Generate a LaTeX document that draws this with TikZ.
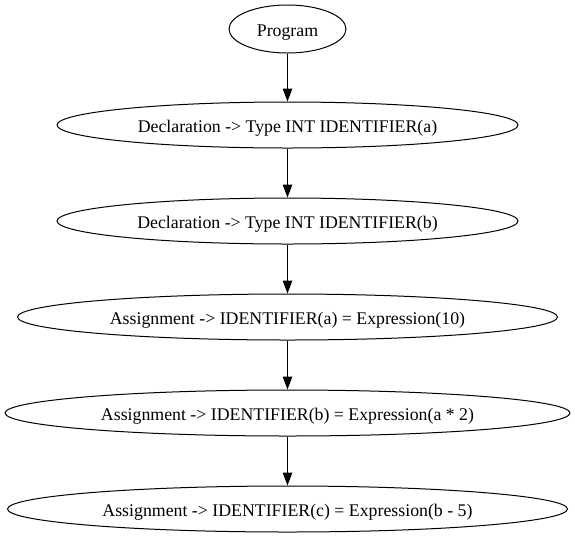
\documentclass[tikz,border=0pt]{standalone}
\usepackage{fontspec}
\setmainfont{Liberation Serif}
\usetikzlibrary{shapes.geometric,arrows.meta}
\begin{document}
\begin{tikzpicture}[x=1pt,y=-1pt,
  gnode/.style={draw, ellipse, inner sep=0pt, line width=1pt, minimum height=46pt,
    text height=16pt, text depth=2pt,
    font=\fontsize{17.8}{20}\selectfont},
  edge/.style={line width=1pt, -{Triangle[length=13pt,width=9.5pt]}}]
\useasboundingbox (0,0) rectangle (575,539);
\node[gnode, minimum width=117pt, minimum height=48pt] (p) at (287.5,29) {Program};
\node[gnode, minimum width=461pt] (d1) at (287.5,125) {Declaration -> Type INT IDENTIFIER(a)};
\node[gnode, minimum width=461pt] (d2) at (287.5,221) {Declaration -> Type INT IDENTIFIER(b)};
\node[gnode, minimum width=540pt] (a1) at (287.5,317) {Assignment -> IDENTIFIER(a) = Expression(10)};
\node[gnode, minimum width=565pt] (a2) at (287.5,413) {Assignment -> IDENTIFIER(b) = Expression(a * 2)};
\node[gnode, minimum width=560pt] (a3) at (287.5,509) {Assignment -> IDENTIFIER(c) = Expression(b - 5)};
\draw[edge] (p.south) -- (d1.north);
\draw[edge] (d1.south) -- (d2.north);
\draw[edge] (d2.south) -- (a1.north);
\draw[edge] (a1.south) -- (a2.north);
\draw[edge] (a2.south) -- (a3.north);
\end{tikzpicture}
\end{document}
